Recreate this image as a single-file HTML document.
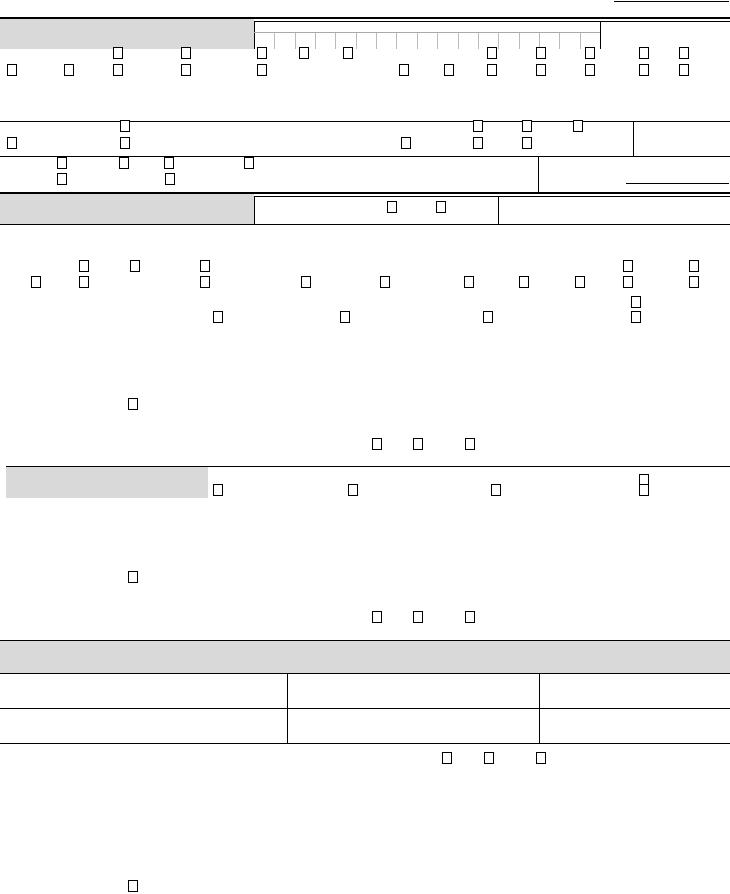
<!DOCTYPE html><html><head><style>
body{margin:0;width:730px;height:894px;background:#fff;position:relative;overflow:hidden;font-family:"Liberation Sans",sans-serif}
div{position:absolute;box-sizing:border-box}
.h{height:1px;background:#000}
.v{width:1px;background:#000}
.g{background:#d9d9d9}
.c{width:10px;height:12px;border:1px solid #000;background:#fff}
.t{width:1px;height:16px;background:#bbb;top:33px}
</style></head><body>
<div class="h" style="left:614px;top:1px;width:115px"></div>
<div class="h" style="left:0;top:17px;width:730px;height:2px"></div>
<div class="g" style="left:0;top:19px;width:254px;height:30px"></div>
<div class="h" style="left:254px;top:21px;width:476px"></div>
<div class="v" style="left:254px;top:21px;height:28px"></div>
<div class="v" style="left:600px;top:21px;height:28px"></div>
<div style="left:254px;top:32px;width:346px;height:1px;background:#aaa"></div>
<div id="ticks"></div>
<div class="h" style="left:0;top:121px;width:730px"></div>
<div class="v" style="left:633px;top:121px;height:35px"></div>
<div class="h" style="left:0;top:156px;width:730px"></div>
<div class="v" style="left:538px;top:156px;height:37px"></div>
<div class="h" style="left:626px;top:183px;width:103px"></div>
<div class="h" style="left:0;top:192px;width:730px;height:2px"></div>
<div class="g" style="left:0;top:194px;width:254px;height:30px"></div>
<div class="h" style="left:254px;top:196px;width:476px"></div>
<div class="v" style="left:254px;top:196px;height:28px"></div>
<div class="v" style="left:498px;top:196px;height:28px"></div>
<div class="h" style="left:0;top:224px;width:730px"></div>
<div class="h" style="left:6px;top:466px;width:724px"></div>
<div class="g" style="left:6px;top:467px;width:202px;height:31px"></div>
<div class="h" style="left:0;top:640px;width:730px"></div>
<div class="g" style="left:0;top:641px;width:730px;height:32px"></div>
<div class="h" style="left:0;top:673px;width:730px"></div>
<div class="h" style="left:0;top:708px;width:730px"></div>
<div class="h" style="left:0;top:743px;width:730px"></div>
<div class="v" style="left:287px;top:673px;height:70px"></div>
<div class="v" style="left:539px;top:673px;height:70px"></div>
<div id="cb"></div>
<script>
var t='';for(var i=1;i<17;i++){t+='<div class="t" style="left:'+Math.round(254+i*346/17)+'px"></div>';}
document.getElementById('ticks').outerHTML=t;
var rows=[[53,[118,186,262,304,348,492,541,590,644,684]],[70,[12,69,118,186,262,404,449,492,541,590,644,684]],
[126,[125,478,527,578]],[143,[12,125,406,478,527]],[163,[62,124,169,249]],[179,[62,170]],[207,[392,441]],
[266,[84,135,205,628,694]],[282,[36,84,205,306,385,469,524,580,628,694]],[302,[636]],[317,[218,345,488,636]],
[404,[133]],[444,[377,418,470]],[480,[644]],[490,[218,353,496,644]],[577,[133]],[617,[377,418,470]],[758,[447,489,541]],[886,[133]]];
var s='';rows.forEach(function(r){r[1].forEach(function(x){s+='<div class="c" style="left:'+(x-5)+'px;top:'+(r[0]-6)+'px"></div>';});});
document.getElementById('cb').outerHTML=s;
</script>
</body></html>
